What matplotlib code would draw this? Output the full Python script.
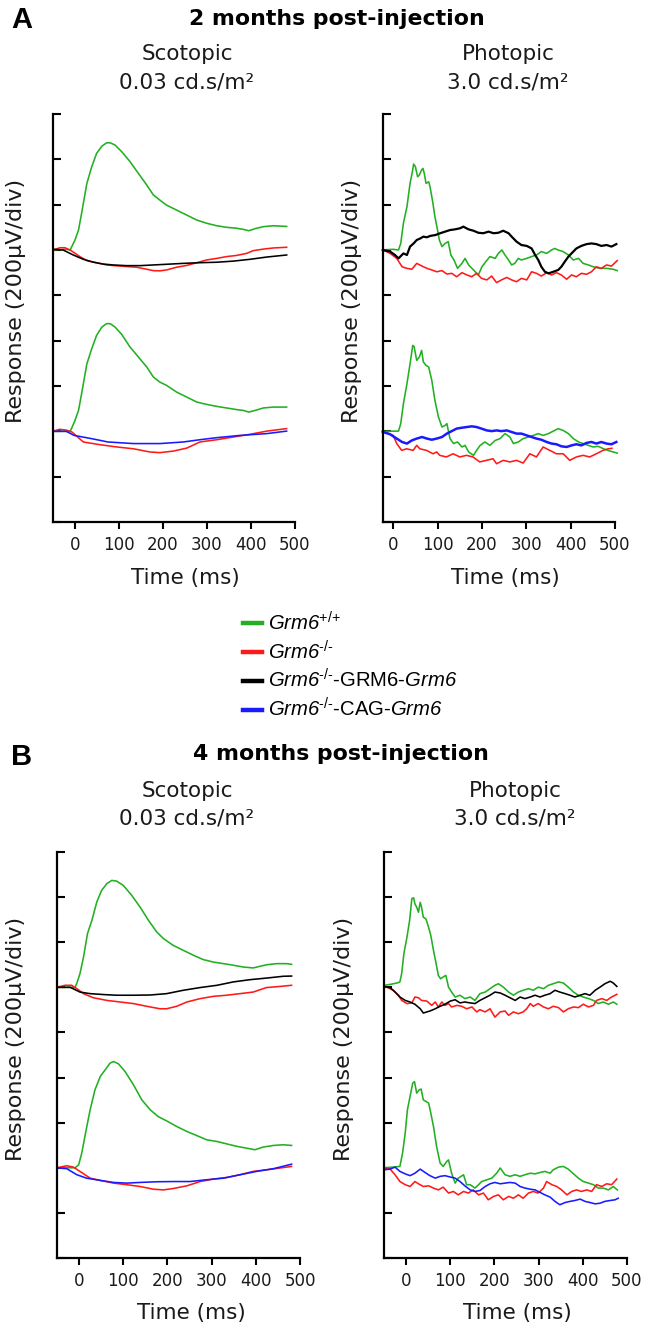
import numpy as np
import matplotlib
matplotlib.use("Agg")
import matplotlib.pyplot as plt

# ---------------- DATA (µV relative to each group's baseline) ----------------
time_ticks = [0, 100, 200, 300, 400, 500]
amp_ticks = [0, 200, 400, 600, 800, 1000, 1200, 1400, 1600, 1800]
group_labels = ["Grm6+/+", "Grm6-/-", "Grm6-/--GRM6-Grm6", "Grm6-/--CAG-Grm6"]

# ---- A, scotopic, upper group (WT, KO, GRM6 promoter) ----
a_sco_top_green_t = [-50, -20, -11, -8, 0, 8, 15, 27, 38, 49, 61, 72, 80, 91, 106, 125, 144, 163, 178, 193, 208, 231, 254, 277, 299, 322, 345, 367, 383, 395, 409, 428, 451, 481]
a_sco_top_green_v = [0, 3, 0, 12, 44, 88, 162, 294, 367, 426, 458, 473, 473, 463, 434, 390, 338, 287, 243, 220, 198, 176, 154, 132, 118, 107, 100, 96, 91, 85, 94, 103, 107, 104]
a_sco_top_red_t = [-50, -34, -23, -11, 11, 27, 49, 72, 95, 117, 140, 163, 178, 193, 208, 231, 254, 277, 299, 322, 345, 367, 390, 405, 428, 451, 481]
a_sco_top_red_v = [0, 10, 10, 0, -29, -47, -56, -66, -70, -73, -76, -85, -91, -92, -88, -76, -68, -56, -44, -37, -29, -24, -15, -3, 4, 9, 12]
a_sco_top_black_t = [-50, -27, -4, 19, 42, 64, 87, 117, 148, 178, 208, 246, 284, 322, 360, 398, 436, 481]
a_sco_top_black_v = [3, 0, -22, -41, -54, -62, -66, -69, -69, -66, -63, -59, -56, -54, -49, -41, -31, -22]

# ---- A, scotopic, lower group (WT, KO, CAG promoter) ----
a_sco_bot_green_t = [-50, -11, -8, 0, 8, 15, 27, 38, 49, 61, 72, 80, 91, 106, 125, 144, 163, 178, 193, 208, 231, 254, 277, 299, 322, 345, 367, 383, 395, 409, 428, 451, 481]
a_sco_bot_green_v = [0, 0, 12, 48, 92, 166, 298, 364, 423, 460, 475, 475, 460, 428, 372, 328, 284, 240, 217, 203, 173, 151, 129, 119, 110, 103, 96, 92, 85, 92, 103, 107, 107]
a_sco_bot_red_t = [-50, -35, -19, -7, 19, 57, 95, 133, 170, 193, 224, 254, 284, 322, 360, 398, 436, 481]
a_sco_bot_red_v = [0, 9, 5, -3, -47, -59, -69, -77, -91, -94, -87, -74, -47, -37, -25, -13, 1, 12]
a_sco_bot_blue_t = [-50, -20, -2, 37, 75, 133, 193, 246, 284, 322, 375, 436, 481]
a_sco_bot_blue_v = [0, 0, -18, -32, -47, -54, -54, -47, -37, -28, -18, -10, 1]

# ---- A, photopic, upper group ----
a_pho_top_green_t = [-25, 0, 12, 17, 23, 31, 38, 44, 46, 50, 55, 59, 64, 67, 70, 74, 80, 83, 89, 94, 100, 104, 110, 117, 124, 130, 137, 145, 155, 162, 170, 181, 192, 200, 209, 218, 230, 237, 245, 252, 260, 267, 274, 282, 289, 301, 312, 323, 334, 346, 357, 364, 372, 383, 395, 406, 418, 428, 440, 451, 466, 481, 496, 505]
a_pho_top_green_v = [0, 3, 0, 29, 118, 191, 294, 353, 379, 368, 323, 331, 353, 360, 338, 294, 301, 279, 213, 147, 88, 44, 15, 29, 37, -22, -44, -81, -59, -37, -66, -88, -110, -74, -51, -29, -37, -15, 0, -22, -44, -66, -59, -37, -44, -37, -29, -22, -7, -15, 0, 7, 0, -7, -22, -44, -37, -59, -66, -74, -81, -81, -85, -91]
a_pho_top_red_t = [-23, -7, 8, 20, 31, 42, 53, 65, 76, 87, 98, 110, 121, 132, 143, 155, 166, 177, 188, 199, 211, 222, 233, 244, 256, 267, 278, 289, 301, 312, 323, 334, 346, 357, 368, 379, 391, 402, 413, 424, 436, 447, 458, 469, 481, 492, 505]
a_pho_top_red_v = [0, -15, -37, -74, -81, -85, -59, -71, -81, -88, -96, -91, -106, -103, -118, -100, -110, -118, -103, -125, -132, -115, -144, -132, -121, -132, -140, -125, -132, -96, -103, -115, -100, -110, -100, -110, -129, -110, -118, -103, -107, -96, -74, -81, -66, -71, -47]
a_pho_top_black_t = [-23, -7, 4, 12, 23, 31, 38, 46, 53, 61, 68, 76, 83, 95, 106, 117, 128, 139, 151, 158, 170, 181, 192, 203, 215, 226, 237, 248, 260, 267, 278, 289, 301, 312, 320, 327, 334, 342, 350, 361, 372, 379, 387, 395, 402, 413, 424, 436, 447, 458, 469, 481, 492, 503]
a_pho_top_black_v = [0, -7, -22, -37, -15, -22, 15, 29, 44, 51, 59, 56, 62, 66, 74, 81, 88, 91, 96, 103, 91, 85, 76, 74, 81, 74, 76, 85, 74, 59, 37, 22, 18, 7, -22, -44, -74, -96, -103, -96, -88, -74, -51, -29, -15, 7, 18, 26, 29, 26, 18, 22, 15, 26]

# ---- A, photopic, lower group ----
a_pho_bot_green_t = [-25, 12, 17, 23, 31, 38, 44, 47, 53, 59, 64, 68, 74, 80, 87, 94, 102, 110, 117, 121, 128, 136, 145, 155, 162, 170, 181, 188, 196, 207, 218, 230, 241, 252, 263, 271, 282, 293, 305, 316, 327, 338, 350, 361, 372, 383, 395, 406, 418, 428, 440, 451, 462, 473, 484, 496, 505]
a_pho_bot_green_v = [0, 1, 34, 122, 210, 298, 379, 375, 313, 328, 357, 306, 291, 284, 225, 137, 63, 19, 26, 34, -32, -54, -47, -69, -62, -91, -106, -84, -62, -47, -62, -40, -32, -10, -25, -54, -47, -32, -25, -18, -10, -18, -10, 1, 12, 4, -10, -32, -47, -54, -62, -69, -66, -76, -84, -91, -96]
a_pho_bot_red_t = [-23, 0, 8, 19, 30, 45, 53, 60, 75, 90, 98, 105, 120, 135, 150, 165, 180, 195, 210, 225, 233, 248, 263, 278, 293, 308, 323, 338, 353, 368, 383, 398, 413, 428, 443, 458, 473, 485, 493]
a_pho_bot_red_v = [0, -18, -54, -84, -77, -84, -62, -77, -84, -99, -91, -106, -113, -99, -113, -106, -113, -135, -128, -121, -143, -128, -135, -128, -140, -99, -113, -69, -84, -99, -99, -128, -113, -106, -113, -99, -84, -77, -75]
a_pho_bot_blue_t = [-23, -7, 8, 20, 31, 42, 53, 65, 76, 87, 98, 110, 121, 132, 143, 155, 166, 177, 188, 199, 211, 222, 233, 244, 256, 267, 278, 289, 301, 312, 323, 334, 346, 357, 368, 379, 391, 402, 413, 424, 436, 447, 458, 469, 481, 492, 503]
a_pho_bot_blue_v = [-3, -13, -32, -47, -54, -40, -32, -25, -32, -37, -32, -25, -10, 1, 12, 16, 19, 22, 19, 12, 4, 1, 4, 1, 4, -3, -10, -10, -18, -25, -32, -37, -47, -54, -57, -66, -69, -62, -57, -62, -51, -47, -54, -47, -54, -57, -47]

# ---- B, scotopic, upper group ----
b_sco_top_green_t = [-50, -9, -4, 2, 10, 19, 29, 40, 51, 63, 74, 85, 100, 119, 138, 157, 176, 191, 213, 236, 259, 281, 304, 327, 349, 372, 394, 409, 424, 447, 470, 481]
b_sco_top_green_v = [0, 0, 24, 61, 134, 238, 297, 378, 430, 460, 474, 471, 452, 408, 356, 297, 245, 216, 186, 164, 142, 123, 112, 105, 98, 90, 86, 93, 100, 105, 105, 102]
b_sco_top_red_t = [-50, -32, -17, -5, 10, 32, 63, 93, 123, 153, 183, 198, 221, 244, 274, 304, 334, 364, 394, 424, 455, 481]
b_sco_top_red_v = [0, 9, 9, -6, -28, -46, -58, -65, -72, -84, -95, -95, -84, -65, -50, -40, -35, -28, -21, -1, 4, 9]
b_sco_top_black_t = [-50, -20, 2, 25, 55, 85, 123, 161, 198, 236, 274, 312, 349, 387, 424, 462, 481]
b_sco_top_black_v = [0, 0, -21, -28, -32, -35, -35, -34, -28, -13, -1, 9, 24, 34, 41, 49, 50]

# ---- B, scotopic, lower group ----
b_sco_bot_green_t = [-50, -9, -1, 6, 16, 25, 36, 48, 59, 70, 78, 89, 104, 123, 142, 161, 179, 198, 221, 244, 266, 289, 311, 334, 357, 379, 398, 417, 440, 462, 481]
b_sco_bot_green_v = [0, 0, 13, 65, 168, 257, 346, 405, 434, 464, 471, 461, 427, 368, 301, 257, 227, 208, 183, 161, 143, 124, 117, 106, 95, 87, 80, 92, 99, 102, 99]
b_sco_bot_red_t = [-50, -28, -13, 2, 25, 48, 78, 108, 138, 168, 191, 213, 244, 274, 304, 334, 364, 394, 424, 455, 481]
b_sco_bot_red_v = [0, 9, 3, -16, -46, -56, -68, -75, -83, -95, -98, -92, -80, -61, -50, -43, -31, -16, -9, -1, 6]
b_sco_bot_blue_t = [-50, -28, -5, 17, 48, 78, 108, 138, 176, 213, 251, 289, 327, 364, 402, 440, 481]
b_sco_bot_blue_v = [0, -4, -31, -46, -56, -65, -68, -65, -62, -61, -61, -53, -46, -31, -16, -4, 16]

# ---- B, photopic, upper group ----
b_pho_top_green_t = [-50, -36, -21, -14, -10, -5, 2, 8, 13, 17, 20, 24, 28, 32, 35, 39, 45, 51, 56, 62, 68, 73, 78, 84, 90, 96, 103, 111, 122, 133, 145, 156, 167, 179, 190, 201, 209, 220, 232, 243, 254, 265, 277, 288, 299, 311, 322, 333, 345, 356, 367, 379, 390, 401, 413, 424, 435, 446, 458, 469, 477]
b_pho_top_green_v = [9, 13, 19, 24, 61, 149, 223, 297, 393, 397, 370, 355, 333, 377, 355, 311, 303, 266, 229, 164, 105, 53, 38, 46, 53, 1, -21, -43, -35, -50, -43, -58, -28, -21, -6, 9, 16, 1, -21, -35, -21, -13, -6, -13, 1, -6, 9, 16, 24, 19, 1, -21, -35, -43, -50, -58, -72, -65, -75, -65, -75]
b_pho_top_red_t = [-50, -42, -29, -17, -10, 2, 13, 20, 28, 35, 47, 58, 66, 73, 81, 88, 96, 103, 115, 126, 137, 149, 160, 167, 179, 190, 201, 213, 224, 232, 243, 254, 265, 273, 281, 288, 299, 311, 322, 333, 345, 356, 367, 379, 390, 401, 413, 424, 431, 443, 454, 465, 477]
b_pho_top_red_v = [4, -1, -13, -35, -58, -72, -69, -43, -46, -58, -61, -80, -65, -87, -65, -80, -72, -87, -80, -84, -95, -87, -109, -99, -109, -95, -132, -109, -105, -124, -109, -117, -109, -95, -72, -84, -72, -87, -95, -84, -90, -109, -95, -87, -90, -75, -87, -80, -58, -50, -58, -43, -31]
b_pho_top_black_t = [-50, -36, -25, -14, -2, 9, 20, 32, 39, 47, 54, 66, 77, 88, 100, 111, 122, 133, 145, 156, 167, 179, 190, 201, 213, 224, 235, 247, 258, 269, 281, 292, 303, 314, 326, 337, 348, 360, 371, 382, 394, 405, 416, 428, 439, 450, 462, 469, 477]
b_pho_top_black_v = [4, -1, -21, -43, -58, -65, -75, -95, -114, -109, -105, -95, -84, -75, -61, -55, -69, -65, -69, -72, -58, -46, -35, -21, -25, -35, -46, -58, -43, -50, -43, -35, -43, -35, -28, -13, -21, -28, -35, -43, -35, -28, -35, -13, 1, 16, 27, 19, 4]

# ---- B, photopic, lower group ----
b_pho_bot_green_t = [-50, -29, -14, -8, -2, 3, 9, 15, 19, 24, 30, 34, 39, 45, 51, 56, 62, 69, 77, 84, 92, 96, 103, 111, 118, 130, 137, 145, 156, 164, 171, 183, 194, 205, 213, 224, 235, 247, 258, 269, 281, 292, 303, 314, 326, 333, 345, 356, 367, 379, 390, 401, 413, 424, 435, 446, 458, 469, 478]
b_pho_bot_green_v = [0, 3, 6, 65, 154, 257, 316, 375, 382, 331, 346, 349, 301, 294, 287, 242, 183, 95, 21, 6, 28, 35, -24, -68, -46, -31, -75, -75, -90, -75, -61, -53, -46, -24, -1, -31, -38, -31, -38, -31, -24, -27, -21, -16, -24, -9, 3, 6, -6, -27, -46, -61, -68, -75, -90, -90, -98, -83, -98]
b_pho_bot_red_t = [-50, -36, -25, -14, -2, 9, 20, 28, 39, 51, 62, 73, 84, 96, 107, 118, 130, 141, 152, 164, 175, 186, 198, 209, 220, 232, 243, 254, 265, 277, 288, 299, 311, 318, 330, 341, 352, 364, 375, 386, 397, 409, 420, 431, 443, 454, 465, 477]
b_pho_bot_red_v = [0, -6, -31, -61, -75, -83, -61, -71, -83, -80, -90, -98, -86, -112, -105, -120, -105, -112, -98, -120, -112, -142, -127, -120, -142, -127, -135, -120, -135, -112, -105, -112, -90, -61, -75, -83, -98, -120, -105, -98, -105, -98, -105, -75, -83, -71, -75, -50]
b_pho_bot_blue_t = [-50, -36, -25, -14, -2, 9, 20, 32, 43, 54, 66, 77, 88, 100, 111, 122, 133, 145, 156, 167, 179, 190, 201, 213, 224, 235, 247, 258, 269, 281, 292, 303, 314, 326, 337, 348, 360, 371, 382, 394, 405, 416, 428, 439, 450, 462, 473, 480]
b_pho_bot_blue_v = [-9, -6, 3, -16, -27, -35, -24, -6, -21, -35, -46, -38, -35, -41, -46, -61, -80, -98, -105, -101, -83, -71, -65, -71, -68, -65, -68, -83, -90, -95, -98, -109, -120, -130, -149, -164, -154, -149, -145, -139, -149, -154, -160, -157, -149, -145, -142, -135]

# ---------------- STYLE ----------------
plt.rcParams["font.family"] = ["DejaVu Sans"]
plt.rcParams["mathtext.fontset"] = "custom"
plt.rcParams["mathtext.it"] = "Liberation Sans:italic"
plt.rcParams["mathtext.sf"] = "Liberation Sans:italic"
plt.rcParams["mathtext.rm"] = "Liberation Sans"
plt.rcParams["mathtext.default"] = "regular"

GREEN, RED, BLACK, BLUE = "#22b022", "#ff1a1a", "#000000", "#1a1aff"
TOP, BOT = 1200, 400   # baselines of the two stacked groups (µV on the 200 µV/div scale)
TXT = "#1a1a1a"

W, H = 650, 1333
fig = plt.figure(figsize=(6.5, 13.33), dpi=100)


def px_axes(x0, x1, ytop, ybot):
    return fig.add_axes([x0 / W, 1 - ybot / H, (x1 - x0) / W, (ybot - ytop) / H])


panels = [
    dict(rect=(53, 295, 114, 522), xlim=(-50, 500), ylab=(-0.153, 0.542), xlab=(0.545, -0.137),
         traces=[(a_sco_top_green_t, a_sco_top_green_v, GREEN, TOP, 1.15),
                 (a_sco_top_red_t, a_sco_top_red_v, RED, TOP, 1.15),
                 (a_sco_top_black_t, a_sco_top_black_v, BLACK, TOP, 1.15),
                 (a_sco_bot_green_t, a_sco_bot_green_v, GREEN, BOT, 1.15),
                 (a_sco_bot_red_t, a_sco_bot_red_v, RED, BOT, 1.15),
                 (a_sco_bot_blue_t, a_sco_bot_blue_v, BLUE, BOT, 1.15)]),
    dict(rect=(383, 615, 114, 522), xlim=(-23, 500), ylab=(-0.134, 0.542), xlab=(0.526, -0.137),
         traces=[(a_pho_top_green_t, a_pho_top_green_v, GREEN, TOP, 1.15),
                 (a_pho_top_red_t, a_pho_top_red_v, RED, TOP, 1.15),
                 (a_pho_top_black_t, a_pho_top_black_v, BLACK, TOP, 1.6),
                 (a_pho_bot_green_t, a_pho_bot_green_v, GREEN, BOT, 1.15),
                 (a_pho_bot_red_t, a_pho_bot_red_v, RED, BOT, 1.15),
                 (a_pho_bot_blue_t, a_pho_bot_blue_v, BLUE, BOT, 1.8)]),
    dict(rect=(57, 300, 852, 1258), xlim=(-50, 500), ylab=(-0.169, 0.539), xlab=(0.551, -0.135),
         traces=[(b_sco_top_green_t, b_sco_top_green_v, GREEN, TOP, 1.15),
                 (b_sco_top_red_t, b_sco_top_red_v, RED, TOP, 1.15),
                 (b_sco_top_black_t, b_sco_top_black_v, BLACK, TOP, 1.15),
                 (b_sco_bot_green_t, b_sco_bot_green_v, GREEN, BOT, 1.15),
                 (b_sco_bot_red_t, b_sco_bot_red_v, RED, BOT, 1.15),
                 (b_sco_bot_blue_t, b_sco_bot_blue_v, BLUE, BOT, 1.15)]),
    dict(rect=(384, 627, 852, 1258), xlim=(-50, 500), ylab=(-0.165, 0.539), xlab=(0.547, -0.135),
         traces=[(b_pho_top_green_t, b_pho_top_green_v, GREEN, TOP, 1.15),
                 (b_pho_top_red_t, b_pho_top_red_v, RED, TOP, 1.15),
                 (b_pho_top_black_t, b_pho_top_black_v, BLACK, TOP, 1.15),
                 (b_pho_bot_green_t, b_pho_bot_green_v, GREEN, BOT, 1.15),
                 (b_pho_bot_red_t, b_pho_bot_red_v, RED, BOT, 1.15),
                 (b_pho_bot_blue_t, b_pho_bot_blue_v, BLUE, BOT, 1.15)]),
]

handles = {}
for p in panels:
    ax = px_axes(*p["rect"])
    for t, v, c, off, lw in p["traces"]:
        ln, = ax.plot(t, np.asarray(v) + off, color=c, lw=lw, clip_on=False)
        handles.setdefault(c, ln)
    ax.set_xlim(*p["xlim"])
    ax.set_ylim(amp_ticks[0], amp_ticks[-1])
    for s in ("top", "right"):
        ax.spines[s].set_visible(False)
    for s in ("left", "bottom"):
        ax.spines[s].set_linewidth(1.6)
    ax.set_xticks(time_ticks)
    ax.set_yticks(amp_ticks)
    ax.set_yticklabels([])
    ax.tick_params(axis="y", direction="in", length=6, width=1.5)
    ax.tick_params(axis="x", direction="out", length=5, width=1.5, labelsize=12,
                   labelcolor=TXT, pad=5)
    ax.text(*p["ylab"], "Response (200µV/div)", transform=ax.transAxes, rotation=90,
            ha="center", va="center", fontsize=16, color=TXT)
    ax.text(*p["xlab"], "Time (ms)", transform=ax.transAxes, ha="center", va="center",
            fontsize=15.5, color=TXT)

# Titles
def ftxt(x, y, s, **kw):
    fig.text(x / W, 1 - y / H, s, **kw)

ftxt(22, 28, "A", fontsize=21, fontweight="bold", family="Liberation Sans", ha="center", va="baseline")
ftxt(22, 765, "B", fontsize=21, fontweight="bold", family="Liberation Sans", ha="center", va="baseline")
ftxt(337, 25, "2 months post-injection", fontsize=15.8, fontweight="bold", ha="center", va="baseline")
ftxt(341, 760, "4 months post-injection", fontsize=15.8, fontweight="bold", ha="center", va="baseline")

for (xc, y1, y2, l1, l2) in [(187, 60, 88, "Scotopic", "0.03 cd.s/m²"),
                             (508, 60, 88, "Photopic", "3.0 cd.s/m²"),
                             (187, 797, 824, "Scotopic", "0.03 cd.s/m²"),
                             (515, 797, 824, "Photopic", "3.0 cd.s/m²")]:
    ftxt(xc, y1, l1, fontsize=15.5, ha="center", va="baseline", color=TXT)
    ftxt(xc, y2, l2, fontsize=15.5, ha="center", va="baseline", color=TXT)

# Legend
leg_labels = [r"$\mathsf{Grm6}^{\text{+/+}}$",
              r"$\mathsf{Grm6}^{\text{-/-}}$",
              r"$\mathsf{Grm6}^{\text{-/-}}$-GRM6-$\mathsf{Grm6}$",
              r"$\mathsf{Grm6}^{\text{-/-}}$-CAG-$\mathsf{Grm6}$"]
leg = fig.legend([handles[GREEN], handles[RED], handles[BLACK], handles[BLUE]], leg_labels,
                 loc="upper left", bbox_to_anchor=(243 / W, 1 - 611 / H), frameon=False,
                 prop={"family": "Liberation Sans", "size": 14.6}, handlelength=0.95,
                 handletextpad=0.3, labelspacing=0.28, borderpad=0, borderaxespad=0)
for ln in leg.get_lines():
    ln.set_linewidth(3.2)

fig.savefig("out.png", dpi=100)
